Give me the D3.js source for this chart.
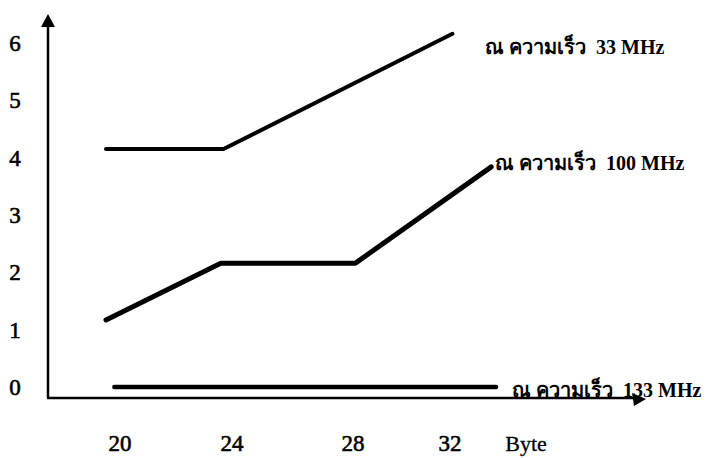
<!DOCTYPE html>
<html><head><meta charset="utf-8">
<script src="https://cdn.jsdelivr.net/npm/d3@7"></script>
<style>body{margin:0;background:#fff}svg{display:block}</style>
</head><body>
<script>
// Data
const xTicks = [20, 24, 28, 32];
const yTicks = [0, 1, 2, 3, 4, 5, 6];
const xUnit = "Byte";
const seriesNames = ["ณ ความเร็ว  33 MHz", "ณ ความเร็ว  100 MHz", "ณ ความเร็ว  133 MHz"];
const s33x = [19.5, 23.7, 32.1];
const s33y = [4.15, 4.15, 6.16];
const s100x = [19.5, 23.6, 28.1, 33.7];
const s100y = [1.17, 2.16, 2.16, 3.84];
const s133x = [19.8, 33.9];
const s133y = [0.0, 0.0];

const W = 716, H = 458;
const svg = d3.select("body").append("svg").attr("width", W).attr("height", H);

const x = d3.scaleLinear().domain([20, 24, 28, 32]).range([120, 232, 353, 450]);
const y = d3.scaleLinear().domain([0, 6]).range([387, 43]);

const axisX0 = 48, axisY0 = 398;

// axes
svg.append("line").attr("x1", axisX0).attr("y1", axisY0).attr("x2", axisX0).attr("y2", 22)
  .attr("stroke", "#000").attr("stroke-width", 2.5);
svg.append("path").attr("d", `M${axisX0},14 L${axisX0-7},27 L${axisX0+7},27 Z`).attr("fill", "#000");
svg.append("line").attr("x1", axisX0 - 1).attr("y1", axisY0).attr("x2", 636).attr("y2", axisY0)
  .attr("stroke", "#000").attr("stroke-width", 2.5);
svg.append("path").attr("d", `M646,399 L632,393 L634,406 Z`).attr("fill", "#000");

const font = "'Liberation Serif','DejaVu Serif',serif";

// y labels
svg.append("g").selectAll("text").data(yTicks).join("text")
  .attr("x", 15).attr("y", d => y(d)).attr("dy", "0.35em")
  .attr("text-anchor", "middle").attr("font-family", font).attr("font-size", 23)
  .attr("stroke", "#000").attr("stroke-width", 0.6)
  .text(d => d);

// x labels
svg.append("g").selectAll("text").data(xTicks).join("text")
  .attr("x", d => x(d)).attr("y", 443).attr("dy", "0.35em")
  .attr("text-anchor", "middle").attr("font-family", font).attr("font-size", 23)
  .attr("stroke", "#000").attr("stroke-width", 0.6)
  .text(d => d);
svg.append("text").attr("x", 526).attr("y", 443).attr("dy", "0.35em")
  .attr("text-anchor", "middle").attr("font-family", font).attr("font-size", 22)
  .attr("stroke", "#000").attr("stroke-width", 0.3)
  .text(xUnit);

// lines
const line = d3.line().x(d => x(d[0])).y(d => y(d[1]));
const series = [
  { xs: s33x, ys: s33y, w: 4 },
  { xs: s100x, ys: s100y, w: 5 },
  { xs: s133x, ys: s133y, w: 4.5 }
];
series.forEach(s => {
  svg.append("path").datum(d3.zip(s.xs, s.ys)).attr("d", line)
    .attr("fill", "none").attr("stroke", "#000").attr("stroke-width", s.w)
    .attr("stroke-linejoin", "round").attr("stroke-linecap", "round");
});

// series labels
const labelPos = [[485, 47], [495, 163], [512, 390]];
seriesNames.forEach((n, i) => {
  svg.append("text").attr("x", labelPos[i][0]).attr("y", labelPos[i][1]).attr("dy", "0.35em")
    .attr("font-family", font).attr("font-size", 20).attr("font-weight", "bold")
    .attr("xml:space", "preserve").style("white-space", "pre")
    .text(n);
});
</script>
</body></html>
